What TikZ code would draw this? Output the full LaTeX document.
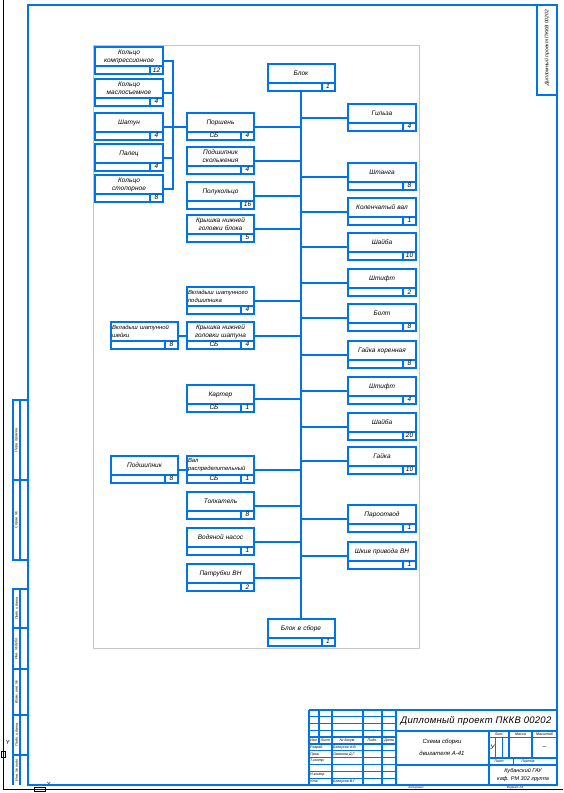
\documentclass[tikz,border=0pt]{standalone}
\usepackage{fontspec}
\setmainfont{Liberation Sans}
\definecolor{cadblue}{RGB}{0,115,235}
\tikzset{
  pb/.style={draw=cadblue, line width=2pt, rectangle, inner sep=0pt, outer sep=0pt},
  ln/.style={draw=cadblue, line width=2pt},
  thin/.style={draw=cadblue, line width=0.9pt},
  tx/.style={font=\fontsize{6.5}{8}\selectfont\itshape, inner sep=0pt, text width=65pt},
  qx/.style={font=\fontsize{6.5}{8}\selectfont\itshape, inner sep=0pt},
  rt/.style={font=\fontsize{3.6}{4}\selectfont\itshape, inner sep=0pt, rotate=90},
  sm/.style={font=\fontsize{3.6}{4}\selectfont\itshape, inner sep=0pt},
}
\newcommand\nrw{\fontsize{5.9}{8}\selectfont}
% #1 align, #2 name, #3 x, #4 top y, #5 width, #6 text, #7 qty, #8 extra
\newcommand\partbox[8][center]{%
  \node[pb, anchor=north west, minimum width=#5pt, minimum height=27pt] (#2) at (#3,#4) {};
  \draw[ln] ([yshift=8.5pt]#2.south west) -- ([yshift=8.5pt]#2.south east);
  \draw[ln] ([yshift=8.5pt,xshift=-13pt]#2.south east) -- ([xshift=-13pt]#2.south east);
  \node[qx] (#2q) at ([xshift=-6.5pt,yshift=4.25pt]#2.south east) {#7};
  \node[tx, align=#1] (#2t) at ([yshift=-9.5pt]#2.north) {#6};
  \node[qx] (#2s) at ([xshift=-6.5pt,yshift=4.25pt]#2.south) {#8};
}
\begin{document}
\begin{tikzpicture}[x=1pt,y=-1pt]
\useasboundingbox (0,0) rectangle (563,793);
\fill[white] (0,0) rectangle (563,793);

% black outer lines and UCS icon
\draw[black, line width=0.7pt] (3,0) -- (3,789.5) -- (563,789.5);
\draw[black, line width=0.5pt] (1,751) rectangle (5,757);
\node[font=\fontsize{6}{6}\selectfont, inner sep=0pt] (ucsy) at (8,742) {Y};
\draw[black, line width=0.5pt] (34,787.5) rectangle (45,791);
\node[font=\fontsize{6}{6}\selectfont, inner sep=0pt] (ucsx) at (49,784.5) {X};

% gray drawing area
\draw[gray!45, line width=0.8pt] (93,45) rectangle (419,648);

% frame
\draw[ln, line width=2.2pt] (28,5) rectangle (557,785);
\draw[ln] (537,5) -- (537,95) -- (557,95);
\node[rt, font=\fontsize{5}{5}\selectfont\itshape] (des2) at (547,48) {Дипломный проект ПККВ 00202};

% left strips
\draw[ln] (28,400) -- (13,400) -- (13,560) -- (28,560);
\draw[ln] (20,400) -- (20,560);
\draw[ln] (13,480) -- (28,480);
\node[rt] (s1) at (16.5,440) {Перв. примен.};
\node[rt] (s2) at (16.5,520) {Справ. №};
\draw[ln] (28,589) -- (13,589) -- (13,785);
\draw[ln] (20,589) -- (20,785);
\foreach \yy in {628,669,715,755} \draw[ln] (13,\yy) -- (28,\yy);
\node[rt] (s3) at (16.5,608.5) {Подп. и дата};
\node[rt] (s4) at (16.5,648.5) {Инв. № дубл.};
\node[rt] (s5) at (16.5,692) {Взам. инв. №};
\node[rt] (s6) at (16.5,735) {Подп. и дата};
\node[rt] (s7) at (16.5,770) {Инв. № подл.};

% ---------- diagram boxes ----------
\partbox{k1}{95}{47}{68}{Кольцо\\компрессионное}{12}{}
\partbox{k2}{95}{79}{68}{Кольцо\\маслосъемное}{4}{}
\partbox{k3}{95}{113}{68}{Шатун}{4}{}
\partbox{k4}{95}{144}{68}{Палец}{4}{}
\partbox{k5}{95}{175}{68}{Кольцо\\стопорное}{8}{}

\partbox{m1}{187}{113}{67}{Поршень}{4}{СБ}
\partbox{m2}{187}{147}{67}{Подшипник\\скольжения}{4}{}
\partbox{m3}{187}{182}{67}{Полукольцо}{16}{}
\partbox{m4}{187}{215}{67}{Крышка нижней\\головки блока}{5}{}
\partbox[left]{m5}{187}{287}{67}{\nrw Вкладыш шатунного\\подшипника}{4}{}
\partbox{m6}{187}{322}{67}{Крышка нижней\\головки шатуна}{4}{СБ}
\partbox{m7}{187}{385}{67}{Картер}{1}{СБ}
\partbox[left]{m8}{187}{456}{67}{\nrw Вал\\распределительный}{1}{СБ}
\partbox{m9}{187}{492}{67}{Толкатель}{8}{}
\partbox{m10}{187}{528}{67}{Водяной насос}{1}{}
\partbox{m11}{187}{564}{67}{Патрубки ВН}{2}{}

\partbox[left]{l1}{111}{322}{67}{\nrw Вкладыш шатунной\\шейки}{8}{}
\partbox{l2}{111}{456}{67}{Подшипник}{8}{}

\partbox{b0}{267.5}{64}{67}{Блок}{1}{}
\partbox{b99}{267.5}{619}{67}{Блок в сборе}{1}{}

\partbox{r1}{348}{104}{68}{Гильза}{4}{}
\partbox{r2}{348}{163}{68}{Штанга}{8}{}
\partbox{r3}{348}{198}{68}{Коленчатый вал}{1}{}
\partbox{r4}{348}{233}{68}{Шайба}{10}{}
\partbox{r5}{348}{269}{68}{Штифт}{2}{}
\partbox{r6}{348}{304}{68}{Болт}{8}{}
\partbox{r7}{348}{341}{68}{Гайка коренная}{8}{}
\partbox{r8}{348}{377}{68}{Штифт}{4}{}
\partbox{r9}{348}{413}{68}{Шайба}{20}{}
\partbox{r10}{348}{447}{68}{Гайка}{10}{}
\partbox{r11}{348}{505}{68}{Пароотвод}{1}{}
\partbox{r12}{348}{542}{68}{Шкив привода ВН}{1}{}

% ---------- connectors ----------
\draw[ln] (b0.south) -- (b99.north);
\foreach \n in {m1,m2,m3,m4,m5,m6,m7,m8,m9,m10,m11}
  \draw[ln] (\n.east) -- (\n.east -| b0.south);
\foreach \n in {r1,r2,r3,r4,r5,r6,r7,r8,r9,r10,r11,r12}
  \draw[ln] (\n.west) -- (\n.west -| b0.south);
\coordinate (brk) at (173,0);
\draw[ln] (k1.east) -- (k1.east -| brk) -- (k5.east -| brk) -- (k5.east);
\foreach \n in {k2,k3,k4}
  \draw[ln] (\n.east) -- (\n.east -| brk);
\draw[ln] (m1.west) -- (m1.west -| brk);
\draw[ln] (l1.east) -- (m6.west);
\draw[ln] (l2.east) -- (m8.west);

% ---------- title block ----------
\draw[ln] (309,710) -- (557,710);
\draw[ln] (309,710) -- (309,785);
\foreach \yy in {716.8,723.6,730.5,750.9,757.7,764.5,771.4,778.2}
  \draw[thin] (309,\yy) -- (396,\yy);
\draw[ln] (309,737.3) -- (396,737.3);
\draw[ln] (309,744.1) -- (396,744.1);
\draw[ln] (319,710) -- (319,744.1);
\foreach \xx in {332,363,382,396}
  \draw[ln] (\xx,710) -- (\xx,785);
\draw[ln] (396,730.5) -- (557,730.5);
\draw[ln] (396,764.5) -- (557,764.5);
\draw[ln] (489,730.5) -- (489,785);
\draw[thin] (489,737.3) -- (557,737.3);
\draw[ln] (489,757.7) -- (557,757.7);
\draw[ln] (509,730.5) -- (509,757.7);
\draw[ln] (532,730.5) -- (532,757.7);
\draw[thin] (495.7,737.3) -- (495.7,757.7);
\draw[thin] (502.3,737.3) -- (502.3,757.7);
\draw[thin] (513,757.7) -- (513,764.5);

\node[font=\fontsize{9.5}{10}\selectfont\itshape\addfontfeature{LetterSpace=3}, inner sep=0pt] (des) at (476,720.5) {Дипломный проект ПККВ 00202};
\node[qx, align=center, font=\fontsize{6}{12}\selectfont\itshape] (nm) at (442,747.5) {Схема сборки\\двигателя А-41};
\node[sm] (h1) at (314,740.7) {Изм.};
\node[sm] (h2) at (325.5,740.7) {Лист};
\node[sm] (h3) at (347.5,740.7) {№ докум.};
\node[sm] (h4) at (372.5,740.7) {Подп.};
\node[sm] (h5) at (389,740.7) {Дата};
\node[sm, anchor=west] (p1) at (310,747.5) {Разраб.};
\node[sm, anchor=west] (p1n) at (333,747.5) {Белоусов И.В.};
\node[sm, anchor=west] (p2) at (310,754.3) {Пров.};
\node[sm, anchor=west] (p2n) at (333,754.3) {Ламонов Д.Г.};
\node[sm, anchor=west] (p3) at (310,761.1) {Т.контр.};
\node[sm, anchor=west] (p4) at (310,774.8) {Н.контр.};
\node[sm, anchor=west] (p5) at (310,781.6) {Утв.};
\node[sm, anchor=west] (p5n) at (333,781.6) {Белоусов В.Г.};
\node[sm] (lt) at (499,734) {Лит.};
\node[sm] (ms) at (520.5,734) {Масса};
\node[sm] (mb) at (544.5,734) {Масштаб};
\node[qx] (lu) at (492.5,747.5) {У};
\node[qx] (mbv) at (544.5,747.5) {--};
\node[sm] (ls) at (499,761.1) {Лист};
\node[sm] (lss) at (528,761.1) {Листов};
\node[qx, align=center, font=\fontsize{5.5}{7.5}\selectfont\itshape] (org) at (523,774.8) {Кубанский ГАУ\\каф. РМ 302 группа};
\node[sm, font=\fontsize{3}{3}\selectfont\itshape] (kop) at (416,787.3) {Копировал};
\node[sm, font=\fontsize{3}{3}\selectfont\itshape] (fmt) at (515,787.3) {Формат А3};
\end{tikzpicture}
\end{document}
